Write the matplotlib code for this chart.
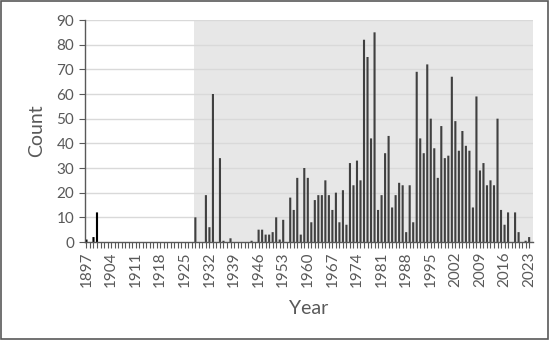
import matplotlib
matplotlib.use("Agg")
import matplotlib.pyplot as plt
from matplotlib.patches import Rectangle

# one value per year, 1897..2023
YEARS = list(range(1897, 2024))
COUNTS = [1, 0, 2, 12] + [0] * 27 + [
    10, 0, 0, 19, 6, 60, 0, 34, 0.5, 0,      # 1928-1937
    1.5, 0, 0, 0, 0, 0, 0.5, 0, 5, 5,        # 1938-1947
    3, 3, 4, 10, 1, 9, 0, 18, 13, 26,        # 1948-1957
    3, 30, 26, 8, 17, 19, 19, 25, 19, 13,    # 1958-1967
    20, 8, 21, 7, 32, 23, 33, 25, 82, 75,    # 1968-1977
    42, 85, 13, 19, 36, 43, 14, 19, 24, 23,  # 1978-1987
    4, 23, 8, 69, 42, 36, 72, 50, 38, 26,    # 1988-1997
    47, 34, 35, 67, 49, 37, 45, 39, 37, 14,  # 1998-2007
    59, 29, 32, 23, 25, 23, 50, 13, 7, 12,   # 2008-2017
    0, 12, 4, 0, 0.5, 2,                     # 2018-2023
]
SHADE_FROM = 1928
LABEL_YEARS = list(range(1897, 2024, 7))
Y_TICKS = list(range(0, 100, 10))

plt.rcParams['font.family'] = ['Lato', 'DejaVu Sans']

fig = plt.figure(figsize=(5.5, 3.4), dpi=100)
ax = fig.add_axes([84.7 / 550, 1 - 242 / 340, (533 - 84.7) / 550, 222 / 340])

ax.axvspan(SHADE_FROM - 0.5, 2024.1, color="#e7e7e7", zorder=0, lw=0)
for y in Y_TICKS[1:]:
    ax.axhline(y, color="#d9d9d9", lw=1, zorder=1)

colors = ["#000000" if yr < SHADE_FROM else "#404040" for yr in YEARS]
bars = ax.bar(YEARS, COUNTS, width=0.6, color=colors, zorder=2, lw=0)
for b in bars:
    b.set_snap(False)

ax.set_xlim(1896.5, 2024.1)
ax.set_ylim(0, 90)
ax.set_yticks(Y_TICKS)
ax.set_xticks(YEARS)
ax.set_xticklabels([str(yr) if yr in LABEL_YEARS else "" for yr in YEARS],
                   rotation=90)

for s in ["top", "right"]:
    ax.spines[s].set_visible(False)
for s in ["left", "bottom"]:
    ax.spines[s].set_color("#595959")
    ax.spines[s].set_linewidth(1.0)
ax.tick_params(axis="both", direction="out", length=4, width=0.8,
               color="#595959", labelcolor="#595959", labelsize=11)
ax.tick_params(axis="x", pad=3)

ax.set_xlabel("Year", fontsize=14, color="#595959", labelpad=9)
ax.set_ylabel("Count", fontsize=14, color="#595959", labelpad=8)

fig.add_artist(Rectangle((0.002, 0.003), 0.995, 0.993, transform=fig.transFigure,
                         fill=False, edgecolor="#595959", lw=1.2))

fig.savefig("out.png", dpi=100)
